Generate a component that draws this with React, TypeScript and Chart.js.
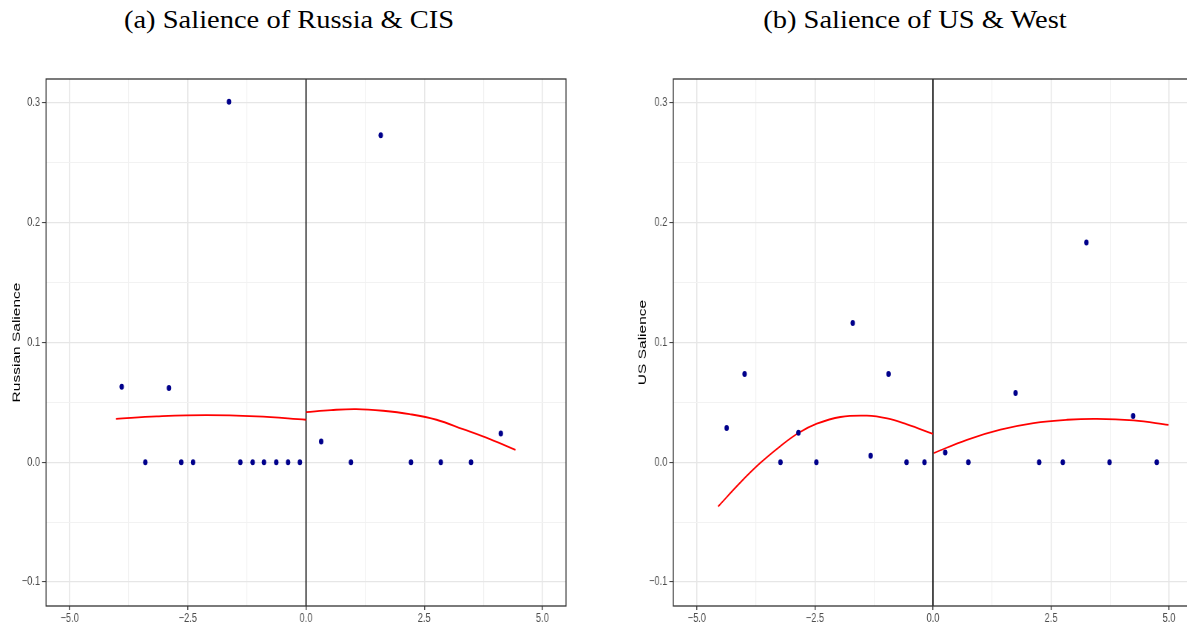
import React, { useEffect, useRef } from "react";
import { Chart, registerables } from "chart.js";
Chart.register(...registerables);

// ---------- data ----------
const xMajorTicks = [-5, -2.5, 0, 2.5, 5];
const yMajorTicks = [-0.1, 0, 0.1, 0.2, 0.3];
const cutoffX = 0;

const russiaX = [-3.9, -3.4, -2.9, -2.64, -2.39, -1.63, -1.39, -1.13, -0.89, -0.63, -0.38, -0.13, 0.32, 0.95, 1.58, 2.22, 2.85, 3.49, 4.12];
const russiaY = [0.063, 0, 0.062, 0, 0, 0.301, 0, 0, 0, 0, 0, 0, 0.0174, 0, 0.273, 0, 0, 0, 0.024];
const russiaFitLeftX = [-4.02, -3.16, -2.11, -1.05, 0];
const russiaFitLeftY = [0.0363, 0.0383, 0.0394, 0.0383, 0.0355];
const russiaFitRightX = [0, 0.53, 1.06, 1.63, 2.19, 2.76, 3.32, 3.89, 4.43];
const russiaFitRightY = [0.0419, 0.0436, 0.0444, 0.043, 0.0402, 0.0355, 0.0277, 0.0194, 0.0104];

const usX = [-4.37, -3.99, -3.23, -2.85, -2.47, -1.7, -1.32, -0.94, -0.56, -0.18, 0.26, 0.75, 1.75, 2.25, 2.75, 3.25, 3.74, 4.24, 4.74];
const usY = [0.0286, 0.0737, 0, 0.0246, 0, 0.1163, 0.0054, 0.0737, 0, 0, 0.0082, 0, 0.0578, 0, 0, 0.1834, 0, 0.0386, 0];
const usFitLeftX = [-4.55, -4.08, -3.66, -3.24, -2.85, -2.46, -1.96, -1.4, -0.97, -0.55, 0];
const usFitLeftY = [-0.0369, -0.0169, -0.0007, 0.0132, 0.0244, 0.0322, 0.0378, 0.0389, 0.0366, 0.0316, 0.0238];
const usFitRightX = [0.02, 0.72, 1.43, 2.13, 2.84, 3.47, 4.25, 4.99];
const usFitRightY = [0.0077, 0.0188, 0.0272, 0.0327, 0.0355, 0.0363, 0.0349, 0.0313];

const X_MIN = -5.5, X_MAX = 5.5, Y_MIN = -0.12, Y_MAX = 0.32;

// ---------- helpers ----------
const SQUEEZE = 0.74;
const zip = (xs: number[], ys: number[]) => xs.map((x, i) => ({ x, y: ys[i] }));
const isMajor = (v: number, majors: number[]) => majors.some((t) => Math.abs(t - v) < 1e-6);
const fmt = (v: number) => (Math.abs(v) < 1e-9 ? "0.0" : v.toFixed(1).replace("-", "\u2212"));

const borderPlugin = {
  id: "panelBorder",
  afterDatasetsDraw(chart: any) {
    const { ctx, chartArea } = chart;
    ctx.save();
    ctx.strokeStyle = "#333333";
    ctx.lineWidth = 1.3;
    ctx.strokeRect(chartArea.left, chartArea.top, chartArea.right - chartArea.left, chartArea.bottom - chartArea.top);
    ctx.restore();
  },
};

const tickFont = { family: "'Liberation Sans', Arial, sans-serif", size: 12.5 };

type PanelProps = {
  left: number;
  width: number;
  padL: number;
  padR: number;
  yW: number;
  yTitle: string;
  px: number[]; py: number[];
  lx: number[]; ly: number[];
  rx: number[]; ry: number[];
};

function Panel(p: PanelProps) {
  const ref = useRef<HTMLCanvasElement>(null);
  useEffect(() => {
    const chart = new Chart(ref.current as HTMLCanvasElement, {
      type: "scatter",
      data: {
        datasets: [
          { data: zip(p.px, p.py), pointRadius: 3, pointHoverRadius: 3, backgroundColor: "#00008b", borderWidth: 0, showLine: false },
          { data: zip(p.lx, p.ly), showLine: true, pointRadius: 0, borderColor: "#ff0000", borderWidth: 1.8, tension: 0.4 },
          { data: zip(p.rx, p.ry), showLine: true, pointRadius: 0, borderColor: "#ff0000", borderWidth: 1.8, tension: 0.4 },
          { data: [{ x: cutoffX, y: Y_MIN }, { x: cutoffX, y: Y_MAX }], showLine: true, pointRadius: 0, borderColor: "#000000", borderWidth: 1.6 },
        ],
      } as any,
      options: {
        animation: false,
        responsive: false,
        events: [],
        layout: { padding: { top: 79, left: p.padL, right: p.padR, bottom: 0 } },
        plugins: { legend: { display: false }, tooltip: { enabled: false }, title: { display: false } },
        scales: {
          x: {
            type: "linear",
            min: X_MIN,
            max: X_MAX,
            afterFit: (s: any) => { s.height = 20; },
            border: { display: false },
            grid: {
              color: (c: any) => (isMajor(c.tick.value, xMajorTicks) ? "#e6e6e6" : "#f1f1f1"),
              lineWidth: (c: any) => (isMajor(c.tick.value, xMajorTicks) ? 1.5 : 1.2),
              tickColor: (c: any) => (isMajor(c.tick.value, xMajorTicks) ? "#333333" : "rgba(0,0,0,0)"),
              tickLength: 4,
              tickWidth: 1.3,
            },
            ticks: {
              stepSize: 1.25,
              includeBounds: false,
              autoSkip: false,
              maxRotation: 0,
              padding: 1,
              color: "#4d4d4d",
              font: tickFont,
              callback: (v: any) => (isMajor(Number(v), xMajorTicks) ? fmt(Number(v)) : ""),
            },
          },
          y: {
            type: "linear",
            min: Y_MIN,
            max: Y_MAX,
            afterFit: (s: any) => { s.width = p.yW; },
            border: { display: false },
            grid: {
              color: (c: any) => (isMajor(c.tick.value, yMajorTicks) ? "#e6e6e6" : "#f1f1f1"),
              lineWidth: (c: any) => (isMajor(c.tick.value, yMajorTicks) ? 1.2 : 0.9),
              tickColor: (c: any) => (isMajor(c.tick.value, yMajorTicks) ? "#333333" : "rgba(0,0,0,0)"),
              tickLength: 5.4,
              tickWidth: 1,
            },
            ticks: {
              stepSize: 0.05,
              includeBounds: false,
              autoSkip: false,
              padding: 2.7,
              color: "#4d4d4d",
              font: tickFont,
              callback: (v: any) => (isMajor(Number(v), yMajorTicks) ? fmt(Number(v)) : ""),
            },
            title: {
              display: true,
              text: p.yTitle,
              color: "#000000",
              padding: 0,
              font: { family: "'Liberation Sans', Arial, sans-serif", size: 15.5 },
            },
          },
        },
      } as any,
      plugins: [borderPlugin],
    });
    return () => chart.destroy();
  }, []);
  return (
    <div
      style={{
        position: "absolute",
        left: p.left,
        top: 0,
        width: p.width,
        height: 626,
        transform: `scaleX(${SQUEEZE})`,
        transformOrigin: "0 0",
      }}
    >
      <canvas ref={ref} width={p.width} height={626} style={{ display: "block" }} />
    </div>
  );
}

const titleStyle: React.CSSProperties = {
  position: "absolute",
  top: 5,
  fontFamily: "'Liberation Serif', 'Times New Roman', serif",
  fontSize: 25,
  lineHeight: "30px",
  whiteSpace: "nowrap",
  color: "#000",
  transform: "translateX(-50%) scaleX(1.14)",
};

export default function App() {
  return (
    <div style={{ position: "fixed", left: 0, top: 0, width: 1187, height: 626, overflow: "hidden", background: "#fff" }}>
      <div style={{ ...titleStyle, left: 289 }}>(a) Salience of Russia &amp; CIS</div>
      <div style={{ ...titleStyle, left: 915 }}>(b) Salience of US &amp; West</div>
      <Panel left={0} width={810} padL={13.7} padR={45.1} yW={48.5} yTitle="Russian Salience"
        px={russiaX} py={russiaY} lx={russiaFitLeftX} ly={russiaFitLeftY} rx={russiaFitRightX} ry={russiaFitRightY} />
      <Panel left={600} width={810} padL={48.8} padR={9.2} yW={50.25} yTitle="US Salience"
        px={usX} py={usY} lx={usFitLeftX} ly={usFitLeftY} rx={usFitRightX} ry={usFitRightY} />
    </div>
  );
}
